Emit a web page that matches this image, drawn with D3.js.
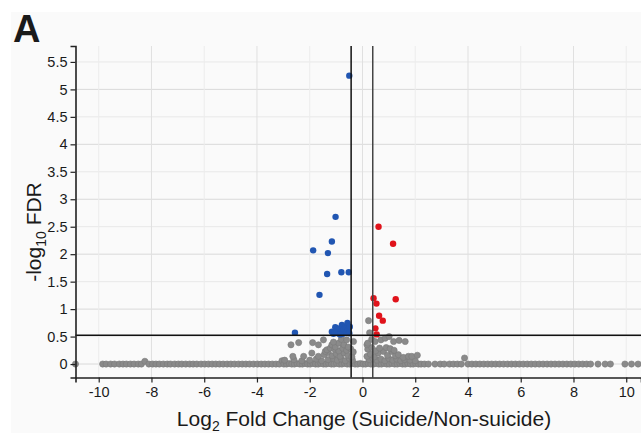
<!DOCTYPE html>
<html><head><meta charset="utf-8">
<script src="https://cdn.jsdelivr.net/npm/d3@7"></script>
<style>body{margin:0;background:#fff}svg{display:block}text{font-family:"Liberation Sans",Arial,sans-serif;fill:#1a1a1a}</style>
</head><body><svg id="c" width="641" height="433"></svg>
<script>
// ---- data ----
const xTicks = [-10,-8,-6,-4,-2,0,2,4,6,8,10];
const yTicks = [0,0.5,1,1.5,2,2.5,3,3.5,4,4.5,5,5.5];
const fcThresholdLow = -0.43, fcThresholdHigh = 0.39, fdrThreshold = 0.523;

const nsPoints = [
 [-10.88,0],
 [-9.85,0],[-9.72,0],[-9.55,0],[-9.40,0],[-9.22,0],[-9.08,0],[-8.95,0],[-8.80,0],[-8.66,0],[-8.50,0],[-8.38,0],[-8.25,0.05],
 [-8.10,0],[-7.96,0],[-7.83,0],[-7.70,0],[-7.55,0],[-7.40,0],[-7.28,0],[-7.12,0],[-6.98,0],[-6.85,0],[-6.70,0],[-6.55,0],
 [-6.42,0],[-6.28,0],[-6.12,0],[-5.98,0],[-5.84,0],[-5.70,0],[-5.56,0],[-5.42,0],[-5.28,0],[-5.13,0],[-4.99,0],[-4.85,0],
 [-4.70,0],[-4.56,0],[-4.42,0],[-4.28,0],[-4.13,0],[-3.98,0],[-3.84,0],[-3.70,0],[-3.56,0],[-3.42,0],[-3.28,0],[-3.15,0],[-3.05,0.06],
 [-2.98,0],[-2.88,0],[-2.78,0.01],[-2.68,0],[-2.58,0],[-2.48,0.01],[-2.38,0],[-2.28,0],[-2.18,0.01],[-2.08,0],[-1.98,0],[-1.88,0.01],
 [-1.78,0],[-1.68,0],[-1.58,0.01],[-1.48,0],[-1.38,0],[-1.28,0.01],[-1.18,0],[-1.08,0],[-0.98,0.01],[-0.88,0],[-0.78,0],[-0.68,0.01],
 [-0.58,0],[-0.48,0],[-0.38,0.01],[-0.28,0],[-0.18,0],[-0.08,0.01],[0.02,0],[0.12,0],[0.22,0.01],[0.32,0],[0.42,0],[0.52,0.01],
 [0.62,0],[0.72,0],[0.82,0.01],[0.92,0],[1.02,0],[1.12,0.01],[1.22,0],[1.32,0],[1.42,0.01],[1.52,0],[1.62,0],[1.72,0.01],
 [1.82,0],[1.92,0],[2.02,0.01],[2.12,0],[2.22,0],
 [-2.95,0.07],[-2.60,0.08],[-2.30,0.06],[-2.00,0.07],[-1.75,0.09],[-1.55,0.06],[-1.30,0.08],[-1.10,0.10],[-0.95,0.07],[-0.80,0.09],
 [-0.65,0.06],[-0.50,0.10],[-0.38,0.07],[0.25,0.08],[0.40,0.10],[0.55,0.07],[0.70,0.09],[0.85,0.06],[1.00,0.10],[1.15,0.07],
 [1.30,0.09],[1.45,0.06],[1.60,0.08],[1.80,0.07],[2.00,0.06],
 [-2.64,0.14],[-2.23,0.14],[-1.92,0.20],[-1.67,0.14],[-1.45,0.17],[-1.30,0.21],[-1.15,0.15],[-1.00,0.19],[-0.85,0.14],[-0.70,0.20],
 [-0.55,0.16],[-0.40,0.13],[0.17,0.14],[0.30,0.18],[0.45,0.13],[0.60,0.20],[0.80,0.23],[0.95,0.16],[1.11,0.23],[1.25,0.15],
 [1.36,0.17],[1.55,0.12],[1.74,0.14],[1.87,0.14],[2.08,0.16],
 [-1.41,0.23],[-1.35,0.26],[-1.22,0.29],[-1.05,0.27],[-0.90,0.24],[-0.75,0.29],[-0.60,0.25],[-0.45,0.28],[-0.35,0.22],
 [0.20,0.27],[0.35,0.30],[0.50,0.24],[0.65,0.29],[0.90,0.30],[1.05,0.28],[1.20,0.25],
 [-2.71,0.35],[-2.42,0.39],[-1.89,0.39],[-1.67,0.35],[-1.48,0.44],[-1.16,0.35],[-1.03,0.31],[-0.90,0.38],[-0.70,0.35],[-0.54,0.31],
 [-0.80,0.45],[-0.60,0.44],[-0.34,0.41],[-1.10,0.40],[0.17,0.35],[0.20,0.38],[0.35,0.45],[0.48,0.41],[0.70,0.44],[0.86,0.47],
 [1.01,0.50],[1.18,0.41],[1.39,0.43],[1.62,0.41],
 [0.23,0.79],[0.27,0.57],
 [2.35,0],[2.50,0],[2.75,0],[2.95,0],[3.10,0],[3.30,0],[3.45,0],[3.60,0],[3.75,0],[3.87,0.11],[4.00,0],[4.15,0],[4.30,0],
 [4.45,0],[4.60,0],[4.75,0],[4.90,0],[5.05,0],[5.20,0],[5.35,0],[5.50,0],[5.65,0],[5.80,0],[5.95,0],[6.10,0],[6.25,0],
 [6.40,0],[6.55,0],[6.70,0],[6.85,0],[7.00,0],[7.15,0],[7.30,0],[7.45,0],[7.60,0],[7.75,0],[7.90,0],[8.05,0],[8.20,0],
 [8.35,0],[8.50,0],[8.65,0],[8.93,0],[9.20,0],[9.40,0],[9.95,0],[10.20,0],[10.45,0]
];
const downPoints = [
 [-0.50,5.25],[-1.02,2.68],[-1.16,2.23],[-1.87,2.07],[-1.31,2.02],[-0.80,1.67],[-0.52,1.67],[-1.34,1.64],[-1.63,1.26],[-2.56,0.57],
 [-1.16,0.59],[-1.10,0.55],[-1.03,0.67],[-0.98,0.60],[-0.92,0.56],[-0.88,0.65],[-0.82,0.59],[-0.78,0.71],[-0.74,0.55],[-0.70,0.63],
 [-0.65,0.68],[-0.62,0.57],[-0.57,0.75],[-0.55,0.62],[-0.50,0.56],[-0.48,0.68],[-0.85,0.54],[-1.06,0.58]
];
const upPoints = [
 [0.61,2.50],[1.16,2.19],[0.42,1.20],[0.53,1.10],[1.26,1.18],[0.63,0.88],[0.77,0.79],[0.49,0.65],[0.54,0.54]
];

// ---- chart ----
const svg = d3.select("#c");
const L = 75.5, R = 641, T = 46, B = 377.5;
const x = d3.scaleLinear().domain([-10.88, 10.56]).range([L, R]);
const y = d3.scaleLinear().domain([-0.245, 5.79]).range([B, T]);

svg.append("rect").attr("x",11).attr("y",12).attr("width",630).attr("height",421).attr("fill","#fafafa");

const g = svg.append("g");
// grid
g.append("g").selectAll("line").data(yTicks).join("line")
 .attr("x1",L).attr("x2",R).attr("y1",d=>y(d)).attr("y2",d=>y(d))
 .attr("stroke",d=>Number.isInteger(d)?"#d9d9d9":"#e8e8e8").attr("stroke-width",1);
g.append("g").selectAll("line").data(xTicks).join("line")
 .attr("x1",d=>x(d)).attr("x2",d=>x(d)).attr("y1",T).attr("y2",B)
 .attr("stroke",d=>d%4===0?"#e0e0e0":"#ececec").attr("stroke-width",1);

const pg = svg.append("g");
pg.selectAll("circle.ns").data(nsPoints).join("circle").attr("class","ns")
 .attr("cx",d=>x(d[0])).attr("cy",d=>y(d[1])).attr("r",3.1)
 .attr("fill","#8a8a8a").attr("stroke","#7a7a7a").attr("stroke-width",0.6);

// thresholds
svg.append("line").attr("x1",x(fcThresholdLow)).attr("x2",x(fcThresholdLow)).attr("y1",T).attr("y2",B).attr("stroke","#111").attr("stroke-width",1.5);
svg.append("line").attr("x1",x(fcThresholdHigh)).attr("x2",x(fcThresholdHigh)).attr("y1",T).attr("y2",B).attr("stroke","#444").attr("stroke-width",1.5);
svg.append("line").attr("x1",L).attr("x2",R).attr("y1",y(fdrThreshold)).attr("y2",y(fdrThreshold)).attr("stroke","#111").attr("stroke-width",1.5);

pg.selectAll("circle.dn").data(downPoints).join("circle").attr("class","dn")
 .attr("cx",d=>x(d[0])).attr("cy",d=>y(d[1])).attr("r",3.2).attr("fill","#2156b2");
pg.selectAll("circle.up").data(upPoints).join("circle").attr("class","up")
 .attr("cx",d=>x(d[0])).attr("cy",d=>y(d[1])).attr("r",3.2).attr("fill","#e0131b");

// axes
const xa = svg.append("g").attr("transform",`translate(0,${B})`)
 .call(d3.axisBottom(x).tickValues(xTicks).tickSize(5).tickPadding(4).tickFormat(d3.format("d")));
const ya = svg.append("g").attr("transform",`translate(${L},0)`)
 .call(d3.axisLeft(y).tickValues(yTicks).tickSize(5).tickPadding(3).tickFormat(d=>String(d)));
[xa,ya].forEach(a=>{
 a.select(".domain").attr("stroke","#222").attr("stroke-width",1.6);
 a.selectAll(".tick line").attr("stroke","#222").attr("stroke-width",1.2);
 a.selectAll(".tick text").style("font-family","'Liberation Sans',Arial,sans-serif").style("font-size","14.5px").attr("fill","#1a1a1a");
});
xa.selectAll(".tick text").text(d=>d<0?"-"+Math.abs(d):String(d));
ya.selectAll(".tick text").text(d=>String(d));

// labels
svg.append("text").attr("x",13).attr("y",42).style("font-size","38px").style("font-weight","bold").text("A");
const xl = svg.append("text").attr("x",364).attr("y",426).attr("text-anchor","middle").style("font-size","21px");
xl.append("tspan").text("Log");
xl.append("tspan").attr("dy",5).style("font-size","14px").text("2");
xl.append("tspan").attr("dy",-5).text(" Fold Change (Suicide/Non-suicide)");
const yl = svg.append("text").attr("transform","translate(41,232) rotate(-90)").attr("text-anchor","middle").style("font-size","21px");
yl.append("tspan").text("-log");
yl.append("tspan").attr("dy",5).style("font-size","14px").text("10");
yl.append("tspan").attr("dy",-5).text(" FDR");
</script></body></html>
